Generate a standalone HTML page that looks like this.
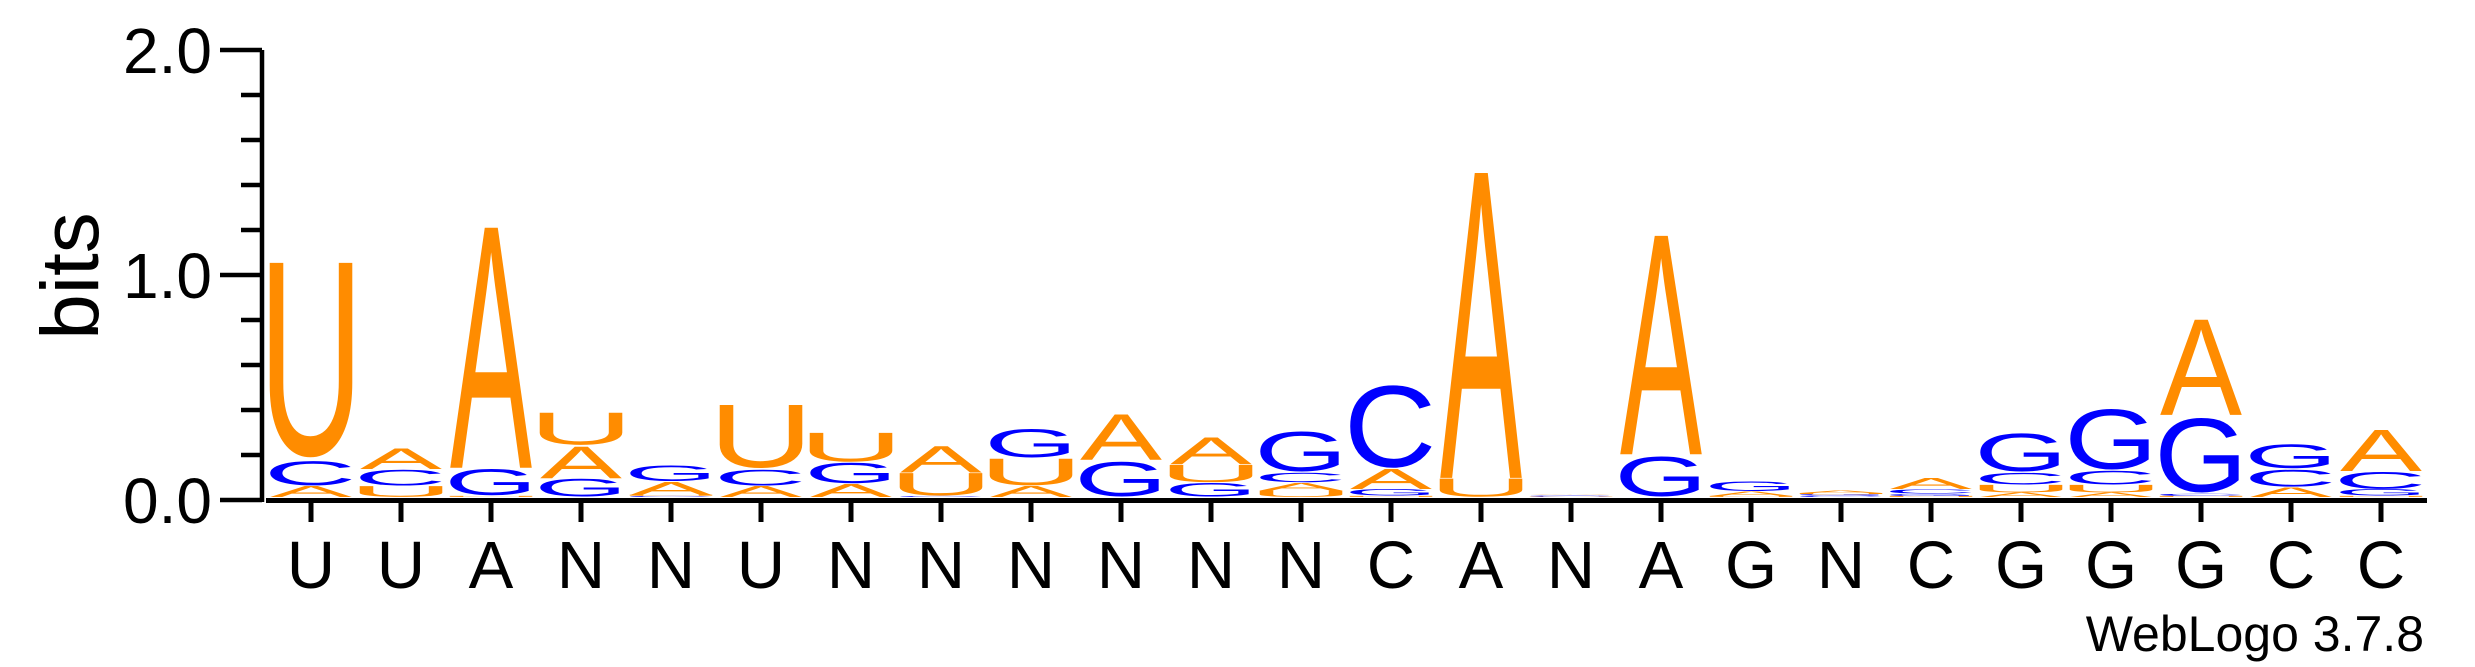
<!DOCTYPE html>
<html><head><meta charset="utf-8"><style>
html,body{margin:0;padding:0;background:#fff;}
svg{display:block;font-family:"Liberation Sans",Arial,sans-serif;}
</style></head><body>
<svg id="logo" width="2475" height="667" viewBox="0 0 2475 667" xmlns="http://www.w3.org/2000/svg">
<g id="yaxis"></g>
<text x="0" y="0" font-size="82" text-anchor="middle" transform="translate(98,276) rotate(-90)">bits</text>
<g id="xaxis"></g>
<g id="stacks"></g>
<text x="2424" y="651" font-size="50" text-anchor="end">WebLogo 3.7.8</text>
</svg>
<script>
const consensus = ["U","U","A","N","N","U","N","N","N","N","N","N","C","A","N","A","G","N","C","G","G","G","C","C"];
const bitsA = [0.05,0.095,1.11,0.145,0.06,0.05,0.06,0.12,0.05,0.21,0.125,0.035,0.09,1.41,0.004,1.01,0.02,0.012,0.05,0.02,0.02,0.44,0.045,0.19];
const bitsC = [0.115,0.075,0,0,0.005,0.075,0,0.005,0,0,0,0.045,0.39,0,0.003,0,0,0.006,0.02,0.055,0.065,0.01,0.08,0.08];
const bitsG = [0,0,0.125,0.085,0.075,0,0.095,0,0.135,0.165,0.065,0.19,0.03,0,0.003,0.19,0.045,0.006,0.01,0.18,0.285,0.35,0.115,0.03];
const bitsU = [0.91,0.05,0.005,0.15,0.005,0.295,0.135,0.105,0.125,0,0.08,0.03,0.005,0.085,0.002,0,0.005,0.006,0.005,0.035,0.035,0.005,0,0.005];
const yTicks = [0,0.2,0.4,0.6,0.8,1.0,1.2,1.4,1.6,1.8,2.0];
const yTickLabels = ["0.0","","","","","1.0","","","","","2.0"];

const NS = "http://www.w3.org/2000/svg";
const Y0 = 500, PXBIT = 225, X0 = 311, COLW = 90, GLW = 82, BASE = 497;
const yScale = v => Y0 - v * PXBIT;
const xScale = i => X0 + i * COLW;
function mk(tag, attrs, parent){const e=document.createElementNS(NS,tag);for(const k in attrs)e.setAttribute(k,attrs[k]);parent.appendChild(e);return e;}

const yaxis = document.getElementById('yaxis');
const ya = mk('line',{x1:262,y1:yScale(2),x2:262,y2:yScale(0)+2,stroke:'#000','stroke-width':4.5},yaxis);


yTicks.forEach((t,i)=>{
  const major = yTickLabels[i] !== "";
  const tk = mk('line',{x1:major?220:241,y1:yScale(t),x2:262,y2:yScale(t),stroke:'#000','stroke-width':4.5},yaxis);
  
  
  if(major){
    const lb = mk('text',{x:212,y:yScale(t)+23,'font-size':64,'text-anchor':'end'},yaxis);
    lb.textContent = yTickLabels[i];
    
    
  }
});

const xaxis = document.getElementById('xaxis');
const xl = mk('rect',{x:266,y:498,width:2427-266,height:5,fill:'#000'},xaxis);


consensus.forEach((c,i)=>{
  const tk = mk('rect',{x:xScale(i)-2.5,y:503,width:5,height:19,fill:'#000'},xaxis);
  
  
  const lb = mk('text',{x:xScale(i),y:588,'font-size':67,'text-anchor':'middle'},xaxis);
  lb.textContent = c;
  
  
});

// glyph bounding boxes in em/1000 units: [xmin,xmax,ymin,ymax]
const BOX = {A:[0,667,0,716],C:[49,688,-19,735],G:[48,731,-19,735],U:[79,643,-19,716]};
const COLOR = {A:'#FF8C00',U:'#FF8C00',C:'#0000FF',G:'#0000FF'};
const stacks = document.getElementById('stacks');
consensus.forEach((c,i)=>{
  const vals = [['A',bitsA[i]],['C',bitsC[i]],['G',bitsG[i]],['U',bitsU[i]]].filter(v=>v[1]>0);
  vals.sort((a,b)=>a[1]-b[1]);
  let bottom = BASE;
  vals.forEach(([L,v])=>{
    const h = v*PXBIT;
    const b = BOX[L];
    const sx = GLW/((b[1]-b[0])/10);
    const sy = h/((b[3]-b[2])/10);
    const left = xScale(i)-GLW/2;
    const g = mk('g',{transform:`translate(${left},${bottom}) scale(${sx},${sy}) translate(${-b[0]/10},${b[2]/10})`},stacks);
    const t = mk('text',{x:0,y:0,'font-size':100,fill:COLOR[L]},g);
    t.textContent = L;
    
    
    bottom -= h;
  });
});
</script>
</body></html>
